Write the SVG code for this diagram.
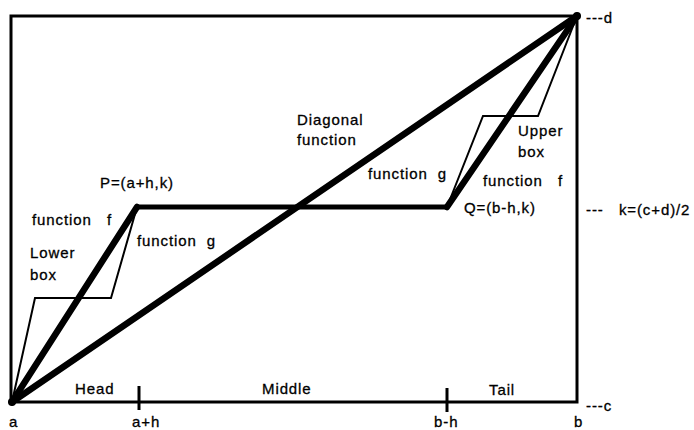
<svg xmlns="http://www.w3.org/2000/svg" width="694" height="430" viewBox="0 0 694 430">
<style>
text{font-family:"Liberation Sans",Arial,sans-serif;font-size:15px;letter-spacing:0.9px;fill:#000;stroke:#000;stroke-width:0.3;white-space:pre}
.thick{stroke:#000;stroke-width:6.5;fill:none;stroke-linecap:round;stroke-linejoin:round}
.thin{stroke:#000;stroke-width:2;fill:none;stroke-linejoin:miter}
.tick{stroke:#000;stroke-width:3}
</style>
<rect width="694" height="430" fill="#fff"/>
<g id="frame">
<rect x="11" y="16" width="566" height="386" fill="none" stroke="#000" stroke-width="3"/>
<circle cx="12" cy="402" r="4" fill="#000"/>
<circle cx="577" cy="16" r="4" fill="#000"/>
</g>
<g id="connectors">
<line class="thick" x1="12" y1="402" x2="577" y2="16"/>
<line class="thick" x1="12" y1="402" x2="137" y2="207"/>
<line x1="137" y1="207" x2="447" y2="207" stroke="#000" stroke-width="5"/>
<line class="thick" x1="447" y1="207" x2="577" y2="16"/>
<polyline class="thin" points="12,402 35,298 111,298 137,207"/>
<polyline class="thin" points="447,207 483,116 538,116 577,16"/>
<line class="tick" x1="139" y1="386" x2="139" y2="410"/>
<line class="tick" x1="447" y1="388" x2="447" y2="412"/>
</g>
<g id="axis-labels">
<text x="9" y="427">a</text>
<text x="132" y="427">a+h</text>
<text x="434" y="427">b-h</text>
<text x="574" y="427">b</text>
<text x="586" y="411">---c</text>
<text x="586" y="23">---d</text>
<text x="586" y="215">---   k=(c+d)/2</text>
</g>
<g id="segment-labels">
<text x="75" y="394">Head</text>
<text x="262" y="394">Middle</text>
<text x="489" y="395">Tail</text>
</g>
<g id="lower-box">
<text x="100" y="188">P=(a+h,k)</text>
<text x="32" y="225">function   f</text>
<text x="30" y="258">Lower</text>
<text x="30" y="280">box</text>
<text x="137" y="246">function  g</text>
</g>
<g id="diagonal">
<text x="297" y="125">Diagonal</text>
<text x="297" y="145">function</text>
</g>
<g id="upper-box">
<text x="368" y="179">function  g</text>
<text x="518" y="136">Upper</text>
<text x="518" y="157">box</text>
<text x="483" y="186">function   f</text>
<text x="464" y="213">Q=(b-h,k)</text>
</g>
</svg>
